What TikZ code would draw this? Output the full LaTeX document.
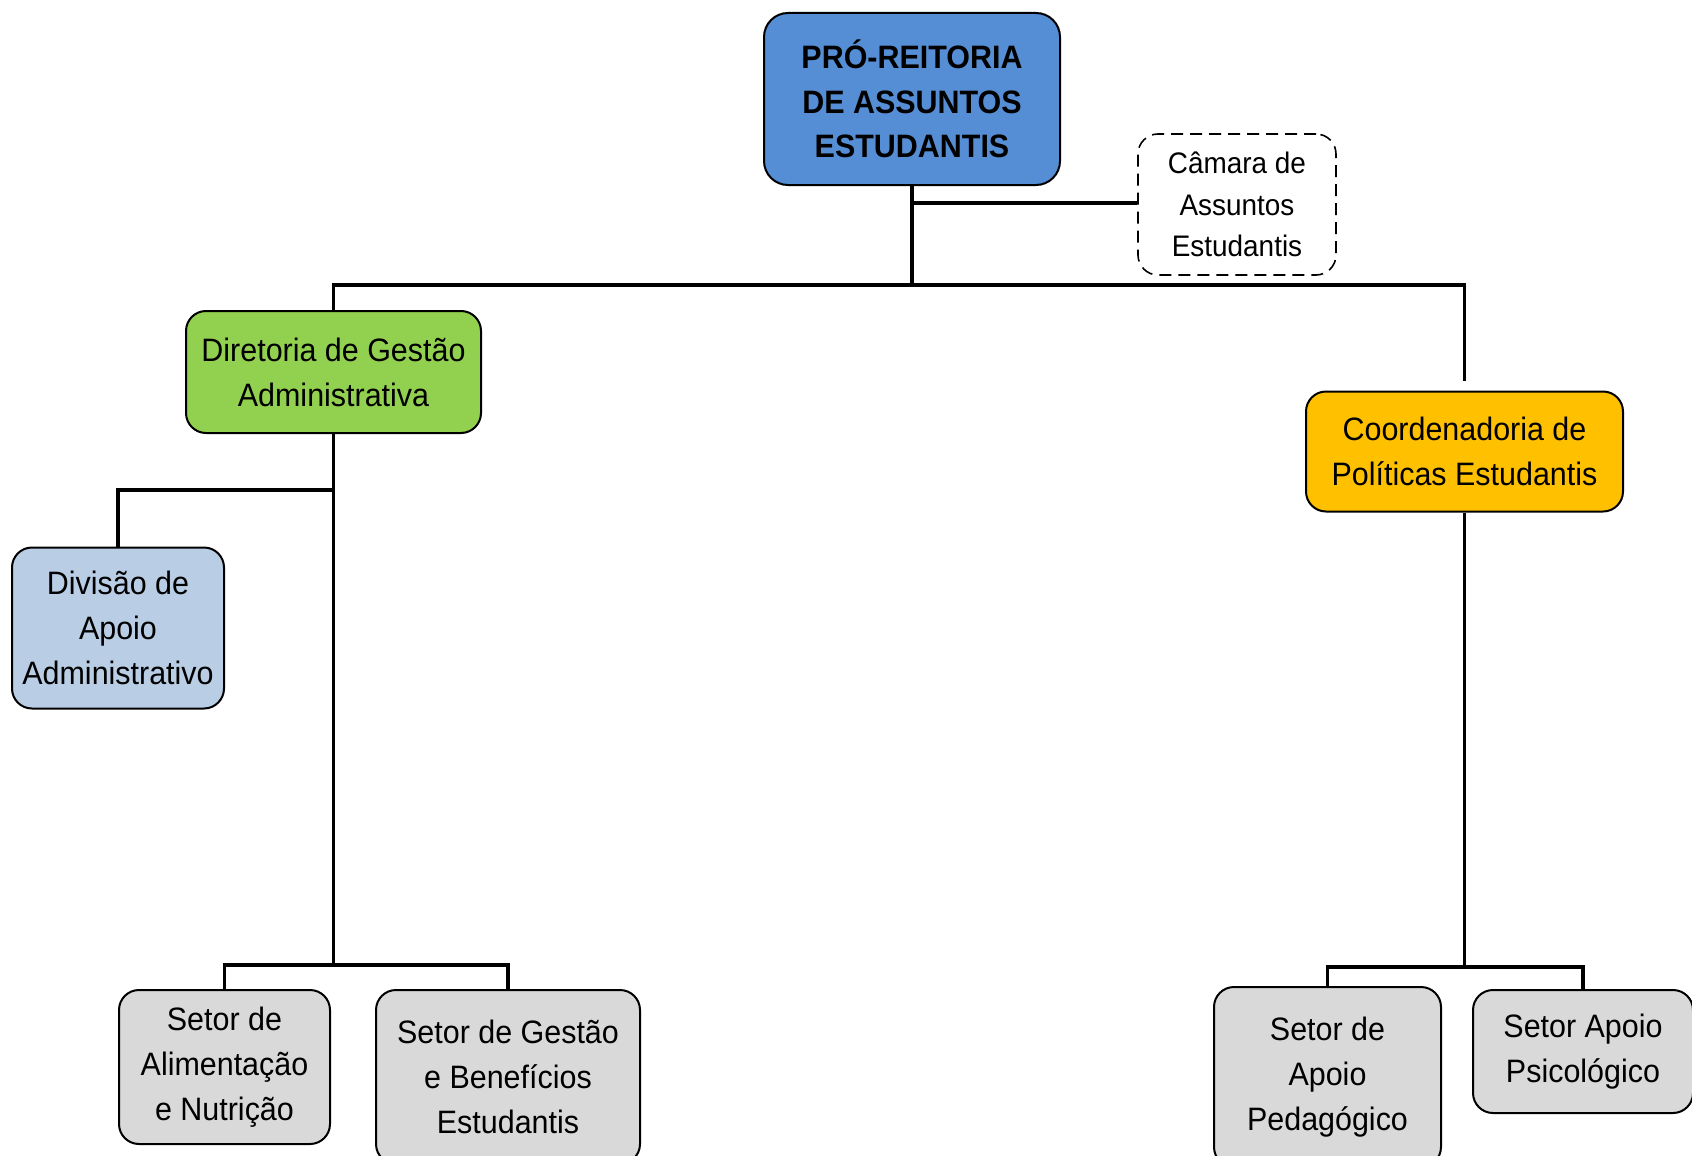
\documentclass[tikz,border=0pt]{standalone}
\usepackage{fontspec}
\setmainfont[FakeStretch=0.94]{Liberation Sans}
\definecolor{pblue}{RGB}{85,142,213}
\definecolor{pgreen}{RGB}{146,208,80}
\definecolor{pgold}{RGB}{255,192,0}
\definecolor{plblue}{RGB}{185,205,229}
\definecolor{pgray}{RGB}{217,217,217}
\begin{document}
\begin{tikzpicture}[x=0.5pt,y=-0.5pt,
  orgbox/.style={draw=black, line width=1pt, rounded corners=10pt, inner sep=0pt,
    align=center, font=\fontsize{16.2pt}{22.5pt}\selectfont},
  link/.style={line width=1.75pt}]
\useasboundingbox (0,0) rectangle (1692,1156);
\clip (0,0) rectangle (1692,1156);
\fill[white] (0,0) rectangle (1692,1156);

% nodes
\node[orgbox, fill=pblue, rounded corners=12pt, minimum width=148pt, minimum height=86pt,
  font=\fontsize{16.2pt}{22.2pt}\selectfont\bfseries] (pro) at (912,99)
  {PRÓ-REITORIA\\DE ASSUNTOS\\ESTUDANTIS};
\node[orgbox, fill=white, dashed, dash pattern=on 6pt off 3.5pt, line width=0.8pt,
  minimum width=99pt, minimum height=70.5pt,
  font=\fontsize{14.85pt}{20.75pt}\selectfont] (cam) at (1237,204.5)
  {Câmara de\\Assuntos\\Estudantis};
\node[orgbox, fill=pgreen, minimum width=147.5pt, minimum height=61pt] (dir) at (333.5,372)
  {Diretoria de Gestão\\Administrativa};
\node[orgbox, fill=pgold, minimum width=158.5pt, minimum height=60pt] (coord) at (1464.5,451.5)
  {Coordenadoria de\\Políticas Estudantis};
\node[orgbox, fill=plblue, minimum width=106pt, minimum height=80.5pt] (div) at (118,628)
  {Divisão de\\Apoio\\Administrativo};
\node[orgbox, fill=pgray, minimum width=105.5pt, minimum height=77pt] (ali) at (224.5,1067)
  {Setor de\\Alimentação\\e Nutrição};
\node[orgbox, fill=pgray, minimum width=132pt, minimum height=87pt] (ges) at (508,1077)
  {Setor de Gestão\\e Benefícios\\Estudantis};
\node[orgbox, fill=pgray, minimum width=113.5pt, minimum height=90pt] (ped) at (1327.5,1077)
  {Setor de\\Apoio\\Pedagógico};
\node[orgbox, fill=pgray, minimum width=110pt, minimum height=61.5pt] (psi) at (1583,1051.5)
  {Setor Apoio\\Psicológico};

% helper coordinates
\coordinate (bus) at (0,285);
\coordinate (camy) at (0,203);
\coordinate (coordtop) at (1464.5,381);
\coordinate (divy) at (0,490);
\coordinate (lbus) at (0,965);
\coordinate (rbus) at (0,967);

% connectors
\draw[link] (pro.south) -- (pro.south |- bus);
\draw[link] (pro.south |- camy) -- (cam.west |- camy);
\draw[link] (dir.north) -- (dir.north |- bus) -- (coordtop |- bus) -- (coordtop);
\draw[link] (dir.south |- divy) -- (div.north |- divy) -- (div.north);
\draw[link] (dir.south) -- (dir.south |- lbus);
\draw[link] (ali.north) -- (ali.north |- lbus) -- (ges.north |- lbus) -- (ges.north);
\draw[link] (coord.south) -- (coord.south |- rbus);
\draw[link] (ped.north) -- (ped.north |- rbus) -- (psi.north |- rbus) -- (psi.north);
\end{tikzpicture}
\end{document}
